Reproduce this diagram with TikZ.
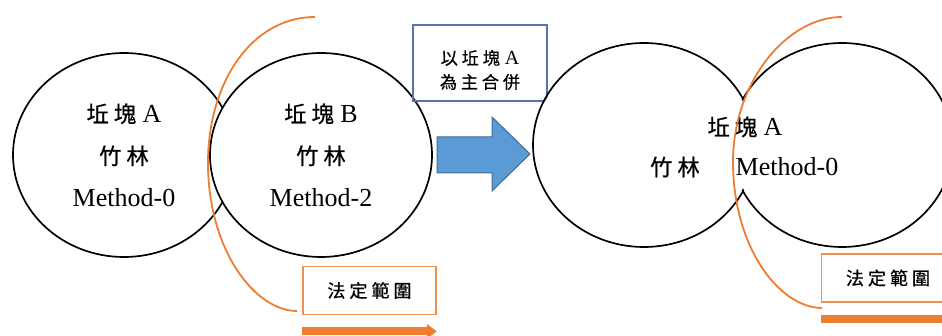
\documentclass[tikz,border=0pt]{standalone}
\usepackage{fontspec}
\setmainfont{Liberation Serif}
\newfontfamily\cjk[LetterSpace=22,Scale=0.86,FakeBold=0.6]{Noto Sans CJK TC}
\usetikzlibrary{arrows.meta,positioning,shapes.geometric}
\definecolor{offorange}{HTML}{ED7D31}
\definecolor{offblue}{HTML}{5B9BD5}
\definecolor{boxblue}{HTML}{5A72AE}
\tikzset{
	parcel/.style={draw,ellipse,line width=1.7pt,minimum width=222pt,minimum height=204pt,inner sep=0pt},
	lbl/.style={align=center,font=\fontsize{26}{42}\selectfont},
	bound/.style={draw=offorange,line width=1.8pt},
	legal/.style={draw=offorange!85,line width=1.8pt,fill=white,minimum width=133pt,minimum height=48pt,font=\fontsize{21}{24}\cjk},
	legalbar/.style={draw=offorange,line width=8pt,-{Triangle[length=10pt,width=14pt]}},
	note/.style={draw=boxblue,line width=1.5pt,minimum width=134pt,minimum height=76pt},
	notetext/.style={align=center,font=\fontsize{20}{24}\selectfont},
	merge/.style={draw=offblue!70!black,fill=offblue,line width=1pt}
}
\begin{document}
\begin{tikzpicture}[x=1pt,y=-1pt]
	\clip (0,0) rectangle (942,336);
	\fill[white] (0,0) rectangle (942,336);

	\node[parcel,lbl] (A) at (124,155) {{\cjk 坵塊} A\\{\cjk 竹林}\\Method-0};
	\node[parcel,lbl,fill=white] (B) at (321,155) {{\cjk 坵塊} B\\{\cjk 竹林}\\Method-2};

	\node[note] (M) at (480,63) {};
	\node[notetext] (Mt) at ([yshift=-7pt]M.center) {{\cjk 以坵塊} A\\{\cjk 為主合併}};

	\fill[merge] (437,137) -- (492,137) -- (492,117) -- (530,154) -- (492,191) -- (492,173) -- (437,173) -- cycle;

	\node[parcel] (C) at (644,145) {};
	\node[parcel] (D) at (842,145) {};
	\fill[white] (C.center) ellipse [x radius=109.5pt,y radius=100.5pt];
	\fill[white] (D.center) ellipse [x radius=109.5pt,y radius=100.5pt];
	\node[lbl] (Ct) at (745,127) {{\cjk 坵塊} A};
	\node[lbl] (Cb) at (675,167) {\cjk 竹林};
	\node[lbl] (Dt) at (787,167) {Method-0};

	\node[legal] (L1) at (369.5,290.5) {法定範圍};
	\node[legal] (L2) at (888,278) {法定範圍};

	\coordinate (b1) at (315,17);
	\coordinate (b2) at (297,311);
	\coordinate (b3) at (842,17);
	\coordinate (b4) at (822,308);

	\draw[bound] (b1) .. controls (252,17) and (208,82) .. (208,163) .. controls (208,250) and (255,311) .. (b2);
	\draw[bound] (b3) .. controls (787,17) and (733,82) .. (733,162) .. controls (733,248) and (780,308) .. (b4);

	\draw[legalbar] ([yshift=-16pt]L1.south west) -- ([yshift=-16pt]L1.south east);
	\draw[legalbar] ([yshift=-16pt]L2.south west) -- ([yshift=-16pt]L2.south east);
\end{tikzpicture}
\end{document}
